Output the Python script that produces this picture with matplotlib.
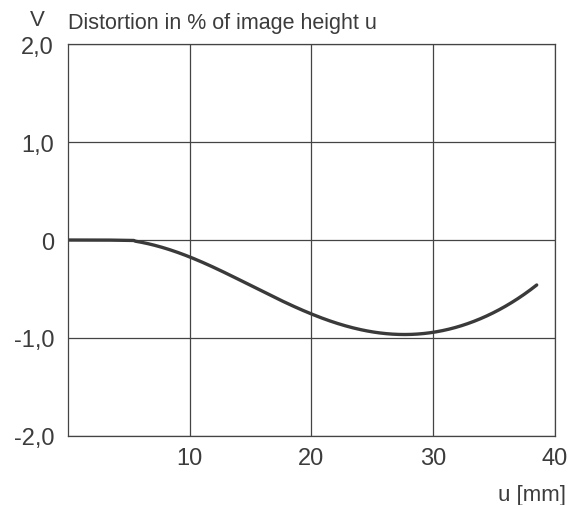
import numpy as np
import matplotlib.pyplot as plt

# distortion curve
u_mm = [0, 3, 5.5, 6.4, 10, 13.5, 17.1, 20, 22.6, 25, 27.2, 30, 32.7, 35.4, 38.5]
v_pct = [0, 0, -0.005, -0.02, -0.17, -0.39, -0.59, -0.745, -0.86, -0.95, -0.965, -0.94, -0.86, -0.71, -0.46]

x_ticks = [10, 20, 30, 40]
x_labels = ["10", "20", "30", "40"]
y_ticks = [-2, -1, 0, 1, 2]
y_labels = ["-2,0", "-1,0", "0", "1,0", "2,0"]

plt.rcParams['font.family'] = ['Liberation Sans', 'DejaVu Sans']

fig = plt.figure(figsize=(5.76, 5.06), dpi=100)
ax = fig.add_axes([0.118, 0.1364, 0.8455, 0.7746])

# smooth the hand-read points with a polynomial through them
xs = np.linspace(u_mm[0], u_mm[-1], 300)
coef = np.polyfit(u_mm, v_pct, 6)
ys = np.polyval(coef, xs)
ys[xs < 5.5] = np.interp(xs[xs < 5.5], u_mm, v_pct)
ax.plot(xs, ys, color='#3a3a3a', linewidth=2.4, solid_capstyle='round')

ax.set_xlim(0, 40)
ax.set_ylim(-2, 2)
ax.set_xticks(x_ticks)
ax.set_xticklabels(x_labels)
ax.set_yticks(y_ticks)
ax.set_yticklabels(y_labels)
ax.tick_params(length=0, labelsize=17, colors='#3c3c3c')
ax.tick_params(axis='y', pad=10)
ax.tick_params(axis='x', pad=8)
ax.grid(True, color='#444444', linewidth=0.9)
for s in ax.spines.values():
    s.set_color('#444444')
    s.set_linewidth(0.9)

fig.text(37 / 576, 1 - 20 / 506, "V", fontsize=16, color='#3c3c3c', ha='center', va='center')
fig.text(68 / 576, 1 - 23 / 506, "Distortion in % of image height u", fontsize=15.5,
         color='#3c3c3c', ha='left', va='center')
fig.text(566 / 576, 1 - 496 / 506, "u [mm]", fontsize=16, color='#3c3c3c', ha='right', va='center')

fig.savefig("out.png", dpi=100)
